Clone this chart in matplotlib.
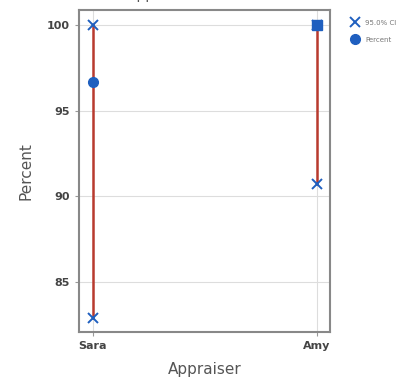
import matplotlib
matplotlib.use("Agg")
import matplotlib.pyplot as plt
from matplotlib.lines import Line2D

appraisers = ["Sara", "Amy"]
percent = [96.67, 100.0]
ci_lower = [82.9, 90.7]
ci_upper = [100.0, 100.0]

BLUE = "#1f5fbf"
RED = "#b83a2e"
GRAY = "#555555"

fig = plt.figure(figsize=(4.08, 3.84), dpi=100)
ax = fig.add_axes([0.1936, 0.1354, 0.6153, 0.8385])

x = list(range(len(appraisers)))
for i in x:
    ax.plot([i, i], [ci_lower[i], ci_upper[i]], color=RED, lw=1.8, zorder=2)
ax.plot(x, ci_lower, "x", color=BLUE, ms=7, mew=1.4, zorder=3, ls="none")
ax.plot(x, ci_upper, "x", color=BLUE, ms=7, mew=1.4, zorder=3, ls="none")
# Amy's 100% point shows as a square sitting over the CI cap
ax.plot(x[0], percent[0], "o", color=BLUE, ms=7, zorder=4)
ax.plot(x[1], percent[1], "s", color=BLUE, ms=7, zorder=4)

ax.set_xlim(-0.0625, 1.058)
ax.set_ylim(82.08, 100.88)
ax.set_xticks(x)
ax.set_xticklabels(appraisers)
ax.set_yticks([85, 90, 95, 100])
ax.grid(True, color="#dddddd", lw=0.8)
ax.set_axisbelow(True)
for s in ax.spines.values():
    s.set_color("#888888")
    s.set_linewidth(1.5)
ax.tick_params(colors="#999999", labelcolor="#444444", labelsize=8, length=3)
for lbl in ax.get_xticklabels() + ax.get_yticklabels():
    lbl.set_fontweight("bold")
ax.set_ylabel("Percent", fontsize=11, color=GRAY, labelpad=10)
ax.set_xlabel("Appraiser", fontsize=11, color=GRAY, labelpad=8)

fig.text(0.5, 0.995, "Appraiser vs Standard", ha="center", va="bottom",
         fontsize=10, color=GRAY)

handles = [
    Line2D([], [], marker="x", color=BLUE, ls="none", ms=7, mew=1.4),
    Line2D([], [], marker="o", color=BLUE, ls="none", ms=7),
]
fig.legend(handles, ["95.0% CI", "Percent"], loc="upper left",
           bbox_to_anchor=(0.845, 0.965), frameon=False, fontsize=5,
           labelcolor="#777777", handletextpad=0.8, labelspacing=1.6,
           handlelength=1.2)

fig.savefig("out.png", dpi=100)
